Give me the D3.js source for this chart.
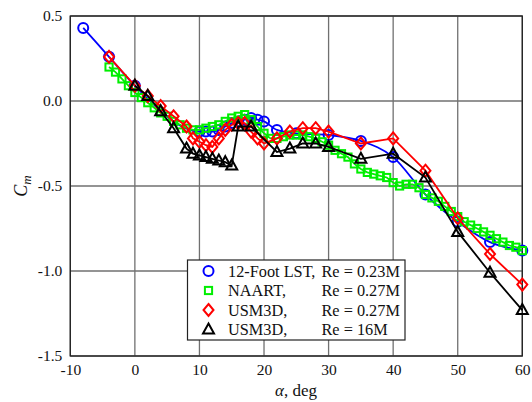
<!DOCTYPE html>
<html><head><meta charset="utf-8">
<script src="https://cdn.jsdelivr.net/npm/d3@7"></script>
<style>body{margin:0;background:#fff}svg{display:block}svg text{font-family:"Liberation Serif","Tinos","Times New Roman","DejaVu Serif",serif !important;}</style>
</head><body>
<script>
// ---- data ----
const lstAlpha = [-8,-4,0,10,11,12,13,14,15,16,17,18,19,20,22,25,30,35,40,45,50,55,60];
const lstCm    = [0.43,0.26,0.09,-0.18,-0.18,-0.18,-0.17,-0.15,-0.13,-0.12,-0.11,-0.10,-0.11,-0.12,-0.17,-0.19,-0.20,-0.235,-0.33,-0.55,-0.71,-0.83,-0.88];

const naartAlpha = [-4,-3,-2,-1,0,1,2,3,4,5,6,7,8,9,10,11,12,13,14,15,16,17,18,19,20,21,22,23,24,25,26,27,28,29,30,31,32,33,34,35,36,37,38,39,40,41,42,43,44,45,46,47,48,49,50,51,52,53,54,55,56,57,58,59,60];
const naartCm    = [0.20,0.17,0.13,0.09,0.05,0.02,-0.01,-0.04,-0.07,-0.09,-0.12,-0.14,-0.16,-0.17,-0.17,-0.16,-0.15,-0.14,-0.12,-0.10,-0.09,-0.08,-0.11,-0.15,-0.19,-0.22,-0.22,-0.21,-0.20,-0.20,-0.20,-0.21,-0.22,-0.24,-0.26,-0.29,-0.31,-0.33,-0.37,-0.40,-0.42,-0.43,-0.44,-0.45,-0.48,-0.50,-0.49,-0.49,-0.51,-0.55,-0.57,-0.59,-0.62,-0.65,-0.68,-0.71,-0.73,-0.75,-0.77,-0.79,-0.81,-0.83,-0.85,-0.86,-0.88];

const lowReAlpha = [-4,0,2,4,6,8,9,10,11,12,13,14,15,16,17,18,19,20,22,24,26,28,30,35,40,45,50,55,60];
const lowReCm    = [0.26,0.09,0.03,-0.03,-0.09,-0.15,-0.22,-0.24,-0.26,-0.27,-0.22,-0.17,-0.14,-0.13,-0.13,-0.18,-0.22,-0.25,-0.22,-0.18,-0.16,-0.16,-0.18,-0.25,-0.22,-0.41,-0.69,-0.90,-1.08];

const highReAlpha = [0,2,4,6,8,9,10,11,12,13,14,15,16,18,22,24,26,28,30,35,40,45,50,55,60];
const highReCm    = [0.09,0.03,-0.06,-0.16,-0.28,-0.31,-0.32,-0.33,-0.34,-0.35,-0.36,-0.38,-0.15,-0.15,-0.30,-0.28,-0.25,-0.25,-0.27,-0.34,-0.31,-0.45,-0.77,-1.01,-1.23];

const xTicks = [-10,0,10,20,30,40,50,60];
const yTicks = [0.5,0.0,-0.5,-1.0,-1.5];
const legendNames = ["12-Foot LST,","NAART,","USM3D,","USM3D,"];
const legendRe    = ["Re = 0.23M","Re = 0.27M","Re = 0.27M","Re = 16M"];

// ---- drawing ----
const FONT='"Liberation Serif","Tinos","Times New Roman","DejaVu Serif",serif';
const W=532,H=402;
const svg=d3.select("body").append("svg").attr("width",W).attr("height",H).attr("font-family",FONT);
const x=d3.scaleLinear().domain([-10,60]).range([70.3,522.3]);
const y=d3.scaleLinear().domain([-1.5,0.5]).range([356,16]);

// grid
svg.append("g").selectAll("line").data(xTicks).join("line")
  .attr("x1",d=>x(d)).attr("x2",d=>x(d)).attr("y1",y(0.5)).attr("y2",y(-1.5))
  .attr("stroke","#707070").attr("stroke-width",1.3);
svg.append("g").selectAll("line").data(yTicks).join("line")
  .attr("y1",d=>y(d)).attr("y2",d=>y(d)).attr("x1",x(-10)).attr("x2",x(60))
  .attr("stroke","#707070").attr("stroke-width",1.3);

// axes via d3
const fmtX=d=>String(d);
const fmtY=d=>(d<0?"-":"")+Math.abs(d).toFixed(1);
const xAxis=svg.append("g").attr("transform",`translate(0,${y(-1.5)})`)
  .call(d3.axisBottom(x).tickValues(xTicks).tickSize(0).tickPadding(8).tickFormat(fmtX));
xAxis.attr("font-family",FONT).attr("font-size",15.5);
xAxis.select(".domain").remove();
xAxis.selectAll("text").attr("fill","#111");
const yAxis=svg.append("g").attr("transform",`translate(${x(-10)},0)`)
  .call(d3.axisLeft(y).tickValues(yTicks).tickSize(0).tickPadding(8).tickFormat(fmtY));
yAxis.attr("font-family",FONT).attr("font-size",15.5);
yAxis.select(".domain").remove();
yAxis.selectAll("text").attr("fill","#111");

// frame
svg.append("rect").attr("x",x(-10)).attr("y",y(0.5)).attr("width",x(60)-x(-10)).attr("height",y(-1.5)-y(0.5))
  .attr("fill","none").attr("stroke","#222").attr("stroke-width",1.3);

const series=[
 {a:lstAlpha,c:lstCm,color:"#0000ff",shape:"circle",curve:d3.curveMonotoneX},
 {a:naartAlpha,c:naartCm,color:"#00ee00",shape:"square",curve:d3.curveLinear},
 {a:lowReAlpha,c:lowReCm,color:"#ff0000",shape:"diamond",curve:d3.curveLinear},
 {a:highReAlpha,c:highReCm,color:"#000000",shape:"triangle",curve:d3.curveLinear}
];
function marker(g,shape,color){
  if(shape==="circle") g.append("circle").attr("r",5).attr("fill","none").attr("stroke",color).attr("stroke-width",2);
  else if(shape==="square") g.append("rect").attr("x",-3.6).attr("y",-3.6).attr("width",7.2).attr("height",7.2).attr("fill","none").attr("stroke",color).attr("stroke-width",2);
  else if(shape==="diamond") g.append("path").attr("d","M0,-6L5,0L0,6L-5,0Z").attr("fill","none").attr("stroke",color).attr("stroke-width",2);
  else g.append("path").attr("d","M0,-6L5.5,4L-5.5,4Z").attr("fill","none").attr("stroke",color).attr("stroke-width",2);
}
const plot=svg.append("g");
series.forEach(s=>{
  const pts=s.a.map((a,i)=>[a,s.c[i]]);
  plot.append("path").datum(pts)
    .attr("d",d3.line().x(d=>x(d[0])).y(d=>y(d[1])).curve(s.curve))
    .attr("fill","none").attr("stroke",s.color).attr("stroke-width",1.8);
  pts.forEach(p=>{
    const g=plot.append("g").attr("transform",`translate(${x(p[0])},${y(p[1])})`);
    marker(g,s.shape,s.color);
  });
});

// legend
const lg=svg.append("g");
lg.append("rect").attr("x",187.5).attr("y",260).attr("width",217.5).attr("height",80)
  .attr("fill","#fff").attr("stroke","#222").attr("stroke-width",1.2);
series.forEach((s,i)=>{
  const cy=271+i*19.5;
  const g=lg.append("g").attr("transform",`translate(208.5,${cy})`);
  marker(g,s.shape,s.color);
  lg.append("text").attr("x",228).attr("y",cy+5.5).attr("font-size",16.3).attr("fill","#111").text(legendNames[i]);
  lg.append("text").attr("x",321.5).attr("y",cy+5.5).attr("font-size",16.3).attr("fill","#111").text(legendRe[i]);
});

// axis titles
const xt=svg.append("text").attr("x",296).attr("y",396).attr("text-anchor","middle").attr("font-size",17).attr("fill","#111");
xt.append("tspan").attr("font-style","italic").text("α");
xt.append("tspan").text(", deg");
const yt=svg.append("text").attr("transform","translate(27,186) rotate(-90)").attr("text-anchor","middle").attr("font-size",18).attr("fill","#111").attr("font-style","italic");
yt.append("tspan").text("C");
yt.append("tspan").attr("font-size",13).attr("dy",4).text("m");
</script>
</body></html>
